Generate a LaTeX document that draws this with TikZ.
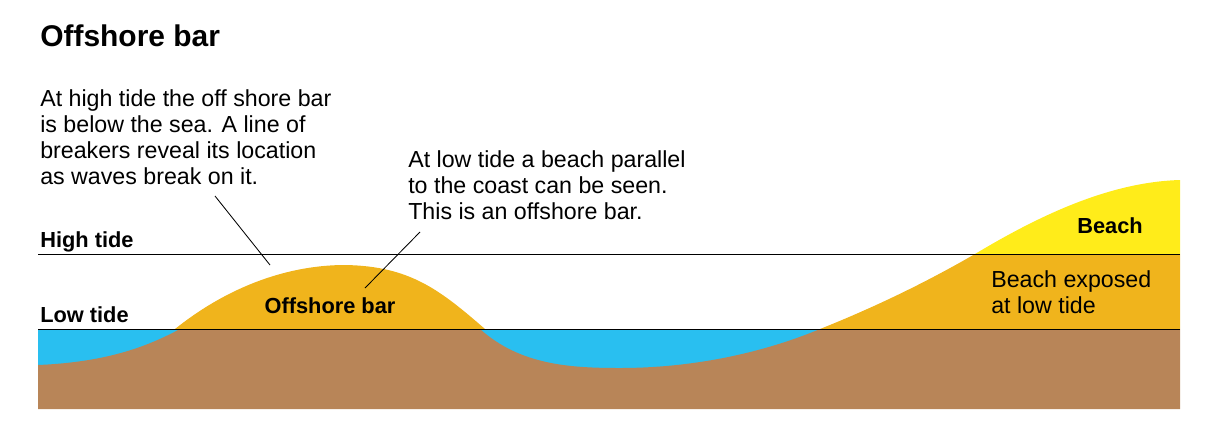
\documentclass[tikz,border=0pt]{standalone}
\usepackage{fontspec}
\setmainfont{Liberation Sans}
\definecolor{sea}{HTML}{29BFF0}
\definecolor{ground}{HTML}{B88558}
\definecolor{sand}{HTML}{F0B41C}
\definecolor{dry}{HTML}{FFEC1A}
\begin{document}
\begin{tikzpicture}[x=0.025cm,y=-0.025cm,
  txt/.style={inner sep=0,font=\fontsize{16.5}{18.5}\selectfont,align=left},
  btxt/.style={inner sep=0,font=\fontsize{15.5}{18.5}\selectfont\bfseries},
  leader/.style={black,line width=0.6pt}]
\useasboundingbox (0,0) rectangle (1207,435);
\fill[sea] (38,329) rectangle (820,372);
\fill[ground] (38,365) .. controls (110,362) and (150,345) .. (180,329) -- (480,329)
  .. controls (520,365) and (570,368) .. (620,368) .. controls (700,368) and (770,350) .. (820,329)
  -- (1180,329) -- (1180,409) -- (38,409) -- cycle;
\fill[sand] (175,329) .. controls (230,285) and (290,265) .. (345,265) .. controls (410,266) and (440,290) .. (485,329) -- cycle;
\fill[sand] (820,329) .. controls (880,305) and (930,280) .. (975,254) -- (1180,254) -- (1180,329) -- cycle;
\fill[dry] (975,254) .. controls (1040,215) and (1110,182) .. (1180,180) -- (1180,254) -- cycle;
\draw[line width=0.7pt] (38,254) -- (1180,254);
\draw[line width=0.7pt] (38,329) -- (1180,329);
\node[anchor=base west,inner sep=0,font=\fontsize{21.3}{24}\selectfont\bfseries] (title) at (40,46) {Offshore bar};
\node[txt,anchor=north west] (t1) at (40,89) {At high tide the off shore bar\\is below the sea. A line of\\breakers reveal its location\\as waves break on it.};
\node[txt,anchor=north west] (t2) at (408,150) {At low tide a beach parallel\\to the coast can be seen.\\This is an offshore bar.};
\node[btxt,anchor=base west] (ht) at (40,247) {High tide};
\node[btxt,anchor=base west] (lt) at (40,322) {Low tide};
\node[btxt] (ob) at (330,306) {Offshore bar};
\node[btxt,anchor=base east] (bh) at (1143,233) {Beach};
\node[txt,anchor=north west] (be) at (991,270) {Beach exposed\\at low tide};
\coordinate (a1) at (215,196); \coordinate (a2) at (270,265);
\coordinate (b1) at (420,232); \coordinate (b2) at (365,288);
\draw[leader] (a1) -- (a2);
\draw[leader] (b1) -- (b2);
\end{tikzpicture}
\end{document}
